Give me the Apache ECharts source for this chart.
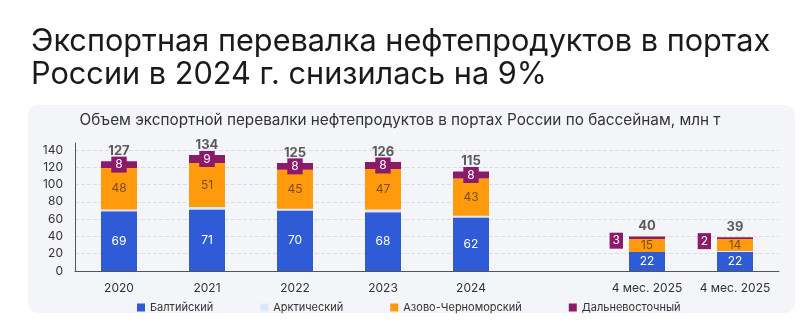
<!DOCTYPE html>
<html><head><meta charset="utf-8">
<script src="https://cdn.jsdelivr.net/npm/echarts@6/dist/echarts.min.js"></script>
<style>html,body{margin:0;padding:0;background:#fff;}#c{width:800px;height:327px;}</style>
</head><body><div id="c"></div>
<script>
const categories = ['2020','2021','2022','2023','2024','','4 мес. 2025','4 мес. 2025'];
const baltic = [69,71,70,68,62,null,22,22];
const arctic = [2,3,2,3,2,null,0,1];
const azov = [48,51,45,47,43,null,15,14];
const fareast = [8,9,8,8,8,null,3,2];
const totals = [127,134,125,126,115,null,40,39];
const yTicks = [0,20,40,60,80,100,120,140];
const seriesNames = ['Балтийский','Арктический','Азово-Черноморский','Дальневосточный'];

const FONT = 'Inter';
const chart = echarts.init(document.getElementById('c'));
chart.setOption({
  backgroundColor:'#ffffff',
  textStyle:{fontFamily:FONT},
  graphic:[{type:'rect',z:-10,shape:{x:28,y:105,width:767,height:208,r:10},style:{fill:'#f4f5f8'}}],
  title:[
    {text:'Экспортная перевалка нефтепродуктов в портах\nРоссии в 2024 г. снизилась на 9%',left:26,top:20,
     textStyle:{fontFamily:FONT,fontSize:30.7,fontWeight:'normal',color:'#1a1a1a',lineHeight:33}},
    {text:'Объем экспортной перевалки нефтепродуктов в портах России по бассейнам, млн т',left:'center',top:108,
     textStyle:{fontFamily:FONT,fontSize:15.3,fontWeight:'normal',color:'#333'}}
  ],
  legend:{data:seriesNames,bottom:9,left:132,itemWidth:8,itemHeight:8,itemGap:47,icon:'rect',
    textStyle:{fontSize:11,color:'#333',fontFamily:FONT}},
  grid:{left:75,right:21,top:143,bottom:56},
  xAxis:{type:'category',data:categories,axisLine:{lineStyle:{color:'#555'}},axisTick:{show:false},
    axisLabel:{color:'#333',fontSize:12,margin:11,interval:0}},
  yAxis:{type:'value',min:0,max:148,interval:20,
    axisLine:{show:true,lineStyle:{color:'#555'}},axisTick:{show:false},
    axisLabel:{color:'#333',fontSize:12,showMaxLabel:false,margin:12,
      formatter:v=>yTicks.includes(v)?String(v):''},
    splitLine:{show:true,showMaxLine:false,lineStyle:{color:'#dcdde2',type:'dashed'}}},
  series:[
    {name:seriesNames[0],type:'bar',stack:'s',barWidth:36,data:baltic,itemStyle:{color:'#2f5cd6'},
     label:{show:true,position:'inside',color:'#fff',fontSize:12}},
    {name:seriesNames[1],type:'bar',stack:'s',barWidth:36,data:arctic,itemStyle:{color:'#dbe8f7'}},
    {name:seriesNames[2],type:'bar',stack:'s',barWidth:36,data:azov,itemStyle:{color:'#ff9a0d'},
     label:{show:true,position:'inside',color:'#7a4e14',fontSize:12}},
    {name:seriesNames[3],type:'bar',stack:'s',barWidth:36,itemStyle:{color:'#8c1a6b'},
     data:fareast.map((v,i)=>i>=6?{value:v,label:{position:'left',distance:6,offset:[0,3],padding:[2,3]}}:v),
     label:{show:true,position:'inside',color:'#fff',fontSize:12,backgroundColor:'#8c1a6b',padding:[2,4],lineHeight:12}},
    {name:'total',type:'scatter',data:totals,symbolSize:1,itemStyle:{color:'rgba(0,0,0,0)'},silent:true,
     label:{show:true,position:'top',distance:3,color:'#333',fontSize:13,fontWeight:'bold'}}
  ]
});
</script></body></html>
